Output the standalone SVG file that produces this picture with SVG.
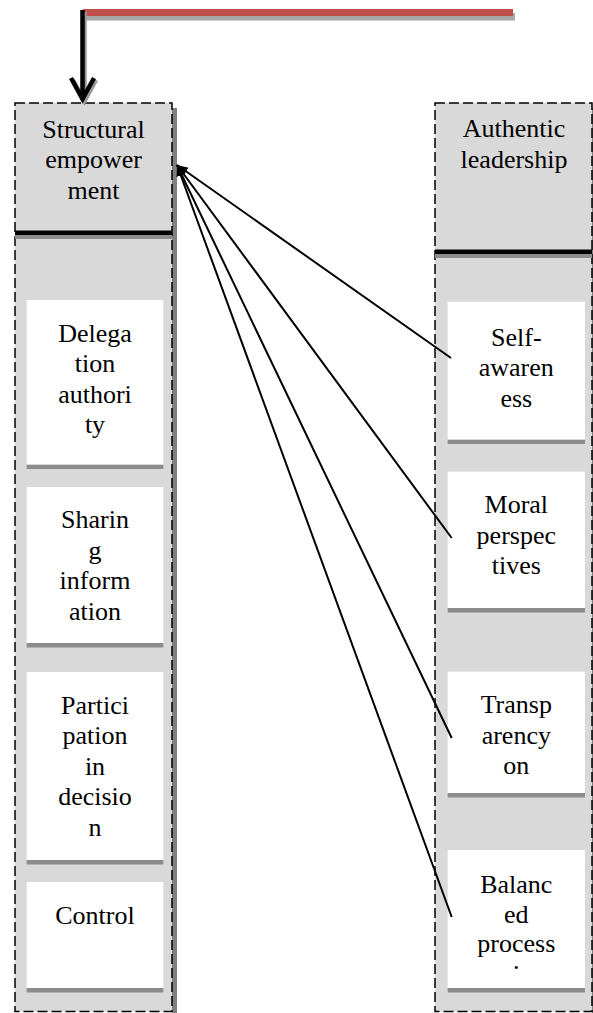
<svg xmlns="http://www.w3.org/2000/svg" width="593" height="1013" viewBox="0 0 593 1013">
  <style>
    .col { fill: #d9d9d9; stroke: #000; stroke-width: 1.5; stroke-dasharray: 10 4; }
    .colshadow { fill: #808080; }
    .box { fill: #ffffff; }
    .boxshadow { fill: #8c8c8c; }
    .bar { stroke: #000; stroke-width: 4.5; }
    .barshadow { stroke: #8c8c8c; stroke-width: 4; }
    .t { font-family: "Liberation Serif", "Times New Roman", "DejaVu Serif", serif; font-size: 26px; text-anchor: middle; fill: #000; }
    .link { stroke: #000; stroke-width: 2; fill: none; marker-end: url(#tri); }
  </style>
  <defs>
    <marker id="tri" markerUnits="userSpaceOnUse" markerWidth="12" markerHeight="10" refX="11" refY="4.5" orient="auto">
      <path d="M0,0 L11,4.5 L0,9 z" fill="#000"/>
    </marker>
  </defs>

  <rect width="593" height="1013" fill="#ffffff"/>

  <!-- Left column: Structural empowerment -->
  <g id="structural-empowerment">
    <rect class="colshadow" x="172" y="108" width="5" height="905"/>
    <rect class="col" x="15" y="103" width="157" height="908.5"/>
    <line class="barshadow" x1="15" y1="237" x2="172" y2="237"/>
    <line class="bar" x1="15" y1="232.7" x2="172" y2="232.7"/>
    <text class="t"><tspan x="93.5" y="137.5">Structural</tspan><tspan x="93.5" y="168">empower</tspan><tspan x="93.5" y="198.5">ment</tspan></text>
  </g>

  <g id="delegation-authority">
    <rect class="boxshadow" x="26.7" y="464.5" width="136.6" height="4.5"/>
    <rect class="box" x="26.7" y="300" width="136.6" height="164.5"/>
    <text class="t"><tspan x="95" y="341.5">Delega</tspan><tspan x="95" y="372">tion</tspan><tspan x="95" y="402.5">authori</tspan><tspan x="95" y="433">ty</tspan></text>
  </g>

  <g id="sharing-information">
    <rect class="boxshadow" x="26.7" y="643" width="136.6" height="4.5"/>
    <rect class="box" x="26.7" y="487" width="136.6" height="156"/>
    <text class="t"><tspan x="95" y="528">Sharin</tspan><tspan x="95" y="558.5">g</tspan><tspan x="95" y="589">inform</tspan><tspan x="95" y="619.5">ation</tspan></text>
  </g>

  <g id="participation-decision">
    <rect class="boxshadow" x="26.7" y="860" width="136.6" height="4.5"/>
    <rect class="box" x="26.7" y="672" width="136.6" height="188"/>
    <text class="t"><tspan x="95" y="713.5">Partici</tspan><tspan x="95" y="744">pation</tspan><tspan x="95" y="774.5">in</tspan><tspan x="95" y="805">decisio</tspan><tspan x="95" y="835.5">n</tspan></text>
  </g>

  <g id="control">
    <rect class="boxshadow" x="26.7" y="988" width="136.6" height="4.5"/>
    <rect class="box" x="26.7" y="882" width="136.6" height="106"/>
    <text class="t" x="95" y="924">Control</text>
  </g>

  <!-- Right column: Authentic leadership -->
  <g id="authentic-leadership">
    <rect class="colshadow" x="592" y="108" width="5" height="905"/>
    <rect class="col" x="435" y="103" width="157" height="908.5"/>
    <line class="barshadow" x1="435" y1="256" x2="592" y2="256"/>
    <line class="bar" x1="435" y1="251.7" x2="592" y2="251.7"/>
    <text class="t"><tspan x="514" y="137">Authentic</tspan><tspan x="514" y="167.5">leadership</tspan></text>
  </g>

  <g id="self-awareness">
    <rect class="boxshadow" x="447.7" y="439.5" width="137.3" height="4.5"/>
    <rect class="box" x="447.7" y="301.7" width="137.3" height="137.8"/>
    <text class="t"><tspan x="516.3" y="345.5">Self-</tspan><tspan x="516.3" y="376">awaren</tspan><tspan x="516.3" y="406.5">ess</tspan></text>
  </g>

  <g id="moral-perspectives">
    <rect class="boxshadow" x="447.7" y="608" width="137.3" height="4.5"/>
    <rect class="box" x="447.7" y="471.7" width="137.3" height="136.3"/>
    <text class="t"><tspan x="516.3" y="513">Moral</tspan><tspan x="516.3" y="543.5">perspec</tspan><tspan x="516.3" y="574">tives</tspan></text>
  </g>

  <g id="transparency">
    <rect class="boxshadow" x="447.7" y="793" width="137.3" height="4.5"/>
    <rect class="box" x="447.7" y="671.7" width="137.3" height="121.3"/>
    <text class="t"><tspan x="516.3" y="713">Transp</tspan><tspan x="516.3" y="743.5">arency</tspan><tspan x="516.3" y="774">on</tspan></text>
  </g>

  <g id="balanced-process">
    <rect class="boxshadow" x="447.7" y="988" width="137.3" height="4.5"/>
    <rect class="box" x="447.7" y="850" width="137.3" height="138"/>
    <text class="t"><tspan x="516.3" y="893">Balanc</tspan><tspan x="516.3" y="923">ed</tspan><tspan x="516.3" y="952">process</tspan><tspan x="516.3" y="969">.</tspan></text>
  </g>

  <!-- Connectors -->
  <g id="connectors">
    <rect x="85" y="13" width="430" height="7.5" fill="#a6a6a6"/>
    <rect x="83" y="9" width="430" height="7" fill="#c0504d"/>
    <path d="M84.5,12 L84.5,101 M73,80 L84.5,101 L96,80" stroke="#999" stroke-width="4.5" fill="none"/>
    <path d="M82.5,10 L82.5,99 M71,78 L82.5,99 L94,78" stroke="#000" stroke-width="4.5" fill="none"/>
    <line class="link" x1="451" y1="358" x2="177" y2="165"/>
    <line class="link" x1="451.7" y1="538" x2="177" y2="165"/>
    <line class="link" x1="451.7" y1="738" x2="177" y2="165"/>
    <line class="link" x1="451.7" y1="917" x2="177" y2="165"/>
  </g>
</svg>
